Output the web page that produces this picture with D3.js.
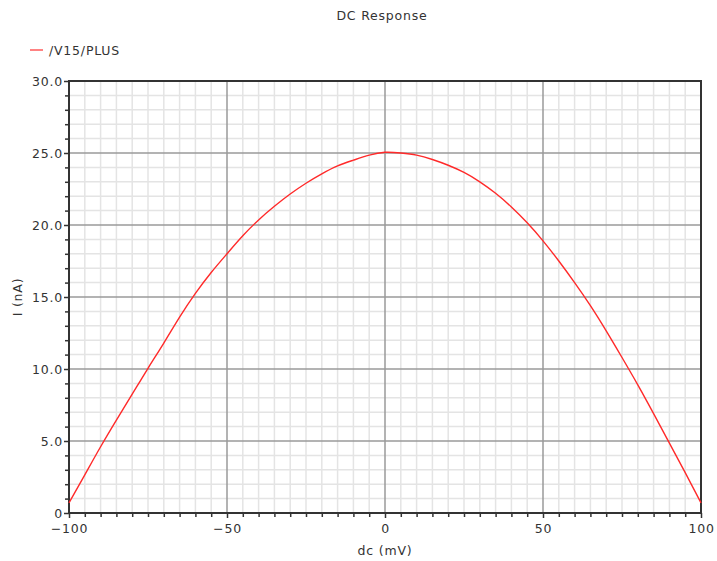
<!DOCTYPE html>
<html>
<head>
<meta charset="utf-8">
<script src="https://cdn.jsdelivr.net/npm/d3@7"></script>
<style>
  html, body { margin: 0; padding: 0; background: #fff; }
  svg text { font-family: "DejaVu Sans", sans-serif; fill: #333; }
</style>
</head>
<body>
<div id="chart"></div>
<script>
// DC sweep of /V15/PLUS current vs dc voltage
const sweepMv = [-100, -95, -90, -85, -80, -75, -70, -65, -60, -55, -50, -45, -40, -35, -30, -25, -20, -15, -10, -5,
  0, 5, 10, 15, 20, 25, 30, 35, 40, 45, 50, 55, 60, 65, 70, 75, 80, 85, 90, 95, 100];
const currentNa = [0.7, 2.65, 4.6, 6.45, 8.25, 10.05, 11.8, 13.6, 15.25, 16.7, 18.0, 19.25, 20.35, 21.3, 22.15, 22.9, 23.55, 24.1, 24.5, 24.85,
  25.05, 25.0, 24.85, 24.55, 24.15, 23.65, 23.0, 22.2, 21.25, 20.15, 18.9, 17.5, 16.0, 14.4, 12.65, 10.8, 8.9, 6.9, 4.85, 2.8, 0.7];
const xMajorTicks = [-100, -50, 0, 50, 100];
const yMajorTicks = [0, 5, 10, 15, 20, 25, 30];
const yTickLabels = ["0", "5.0", "10.0", "15.0", "20.0", "25.0", "30.0"];
const seriesName = "/V15/PLUS";

const width = 717;
const height = 561;
const margin = { top: 81, right: 16, bottom: 48, left: 69 };

const x = d3.scaleLinear().domain([-100, 100]).range([margin.left, width - margin.right]);
const y = d3.scaleLinear().domain([0, 30]).range([height - margin.bottom, margin.top]);

const xMinor = d3.range(-100, 100.1, 5).filter((v) => v % 50 !== 0);
const yMinor = d3.range(0, 30.1, 1).filter((v) => v % 5 !== 0);

const svg = d3.select("#chart").append("svg")
  .attr("width", width)
  .attr("height", height);

svg.append("rect").attr("width", width).attr("height", height).attr("fill", "#fff");

// minor grid
const grid = svg.append("g");
grid.selectAll(".gx").data(xMinor).join("line")
  .attr("x1", (d) => x(d)).attr("x2", (d) => x(d))
  .attr("y1", y(0)).attr("y2", y(30))
  .attr("stroke", "#e4e4e4").attr("stroke-width", 1.5);
grid.selectAll(".gy").data(yMinor).join("line")
  .attr("x1", x(-100)).attr("x2", x(100))
  .attr("y1", (d) => y(d)).attr("y2", (d) => y(d))
  .attr("stroke", "#e4e4e4").attr("stroke-width", 1.5);

// major grid
grid.selectAll(".mx").data(xMajorTicks.slice(1, -1)).join("line")
  .attr("x1", (d) => x(d)).attr("x2", (d) => x(d))
  .attr("y1", y(0)).attr("y2", y(30))
  .attr("stroke", "#9a9a9a").attr("stroke-width", 1.5);
grid.selectAll(".my").data(yMajorTicks.slice(1, -1)).join("line")
  .attr("x1", x(-100)).attr("x2", x(100))
  .attr("y1", (d) => y(d)).attr("y2", (d) => y(d))
  .attr("stroke", "#9a9a9a").attr("stroke-width", 1.5);

// axes
const xAxisMinor = d3.axisBottom(x).tickValues(xMinor).tickSize(4).tickFormat("");
const xAxis = d3.axisBottom(x).tickValues(xMajorTicks).tickSize(5).tickPadding(6)
  .tickFormat((d) => (d < 0 ? "\u2212" + Math.abs(d) : d));
const yAxisMinor = d3.axisLeft(y).tickValues(yMinor).tickSize(4).tickFormat("");
const yAxis = d3.axisLeft(y).tickValues(yMajorTicks).tickSize(5).tickPadding(1)
  .tickFormat((d, i) => yTickLabels[i]);

function styleAxis(g) {
  g.select(".domain").remove();
  g.selectAll(".tick line").attr("stroke", "#333").attr("stroke-width", 1.5);
  g.selectAll("text").attr("font-size", 12.5).attr("letter-spacing", "0.8px")
    .attr("font-family", "DejaVu Sans, sans-serif").attr("fill", "#333");
}

svg.append("g").attr("transform", `translate(0,${y(0)})`).call(xAxisMinor).call(styleAxis);
svg.append("g").attr("transform", `translate(0,${y(0)})`).call(xAxis).call(styleAxis);
svg.append("g").attr("transform", `translate(${x(-100)},0)`).call(yAxisMinor).call(styleAxis);
svg.append("g").attr("transform", `translate(${x(-100)},0)`).call(yAxis).call(styleAxis);

// frame
svg.append("rect")
  .attr("x", x(-100)).attr("y", y(30))
  .attr("width", x(100) - x(-100)).attr("height", y(0) - y(30))
  .attr("fill", "none").attr("stroke", "#333").attr("stroke-width", 2);

// curve
const line = d3.line()
  .x((d, i) => x(sweepMv[i]))
  .y((d) => y(d))
  .curve(d3.curveNatural);

svg.append("path")
  .datum(currentNa)
  .attr("d", line)
  .attr("fill", "none")
  .attr("stroke", "#ff2a2a")
  .attr("stroke-width", 1.4);

// title
svg.append("text")
  .attr("x", 382).attr("y", 20)
  .attr("text-anchor", "middle")
  .attr("font-size", 12.5).attr("letter-spacing", "0.8px")
  .text("DC Response");

// legend
svg.append("line")
  .attr("x1", 30).attr("x2", 43).attr("y1", 50).attr("y2", 50)
  .attr("stroke", "#ff5a5a").attr("stroke-width", 1.5);
svg.append("text")
  .attr("x", 49).attr("y", 54.5)
  .attr("font-size", 12.5).attr("letter-spacing", "0.8px")
  .text(seriesName);

// axis titles
svg.append("text")
  .attr("x", (x(-100) + x(100)) / 2).attr("y", 555)
  .attr("text-anchor", "middle")
  .attr("font-size", 12.5).attr("letter-spacing", "0.8px")
  .text("dc (mV)");
svg.append("text")
  .attr("transform", `translate(22,${(y(0) + y(30)) / 2}) rotate(-90)`)
  .attr("text-anchor", "middle")
  .attr("font-size", 12.5).attr("letter-spacing", "0.8px")
  .text("I (nA)");
</script>
</body>
</html>
